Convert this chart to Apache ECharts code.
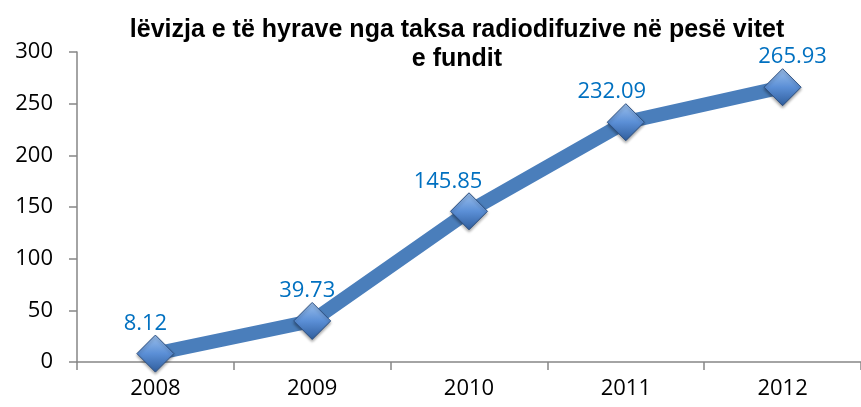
<!DOCTYPE html>
<html>
<head>
<meta charset="utf-8">
<script src="https://cdn.jsdelivr.net/npm/echarts@6/dist/echarts.min.js"></script>
<style>
    html, body { margin: 0; padding: 0; background: #fff; }
    #chart { width: 861px; height: 407px; }
</style>
</head>
<body>
<div id="chart"></div>
<script>
    // vitet dhe te hyrat
    var years = ['2008', '2009', '2010', '2011', '2012'];
    var hyrat = [8.12, 39.73, 145.85, 232.09, 265.93];
    var yTicks = [0, 50, 100, 150, 200, 250, 300];
    // zhvendosja horizontale e etiketave (si ne Excel)
    var labelShift = [-10, -5, -21, -14, 10];

    var chart = echarts.init(document.getElementById('chart'));

    var seriesData = hyrat.map(function (v, i) {
        return { value: v, label: { offset: [labelShift[i], 0] } };
    });

    var option = {
        animation: false,
        title: {
            text: 'lëvizja e të hyrave nga taksa radiodifuzive në pesë vitet\ne fundit',
            left: 452,
            top: 11,
            textAlign: 'center',
            textStyle: {
                fontFamily: 'Liberation Sans',
                fontWeight: 'bold',
                fontSize: 25,
                lineHeight: 29,
                color: '#000'
            }
        },
        grid: {
            left: 77,
            right: -3,
            top: 52,
            bottom: 45
        },
        xAxis: {
            type: 'category',
            data: years,
            boundaryGap: true,
            axisLine: { lineStyle: { color: '#868686', width: 1.5 } },
            axisTick: { show: true, length: 8, lineStyle: { color: '#868686', width: 1.5 } },
            axisLabel: {
                fontFamily: 'Open Sans',
                fontSize: 22,
                color: '#000',
                margin: 16
            }
        },
        yAxis: {
            type: 'value',
            min: yTicks[0],
            max: yTicks[yTicks.length - 1],
            interval: 50,
            axisLine: { show: true, lineStyle: { color: '#868686', width: 1.5 } },
            axisTick: { show: true, length: 8, lineStyle: { color: '#868686', width: 1.5 } },
            splitLine: { show: false },
            axisLabel: {
                fontFamily: 'Open Sans',
                fontSize: 22,
                color: '#000',
                margin: 24
            }
        },
        series: [{
            type: 'line',
            data: seriesData,
            symbol: 'diamond',
            symbolSize: 37,
            lineStyle: { color: '#4a7ebb', width: 14 },
            itemStyle: {
                color: new echarts.graphic.LinearGradient(0, 0, 0, 1, [
                    { offset: 0, color: '#9cc0ec' },
                    { offset: 0.5, color: '#5b8fd6' },
                    { offset: 1, color: '#2f5d9c' }
                ]),
                borderColor: '#2c4f80',
                borderWidth: 1,
                shadowColor: 'rgba(0,0,0,0.35)',
                shadowBlur: 3,
                shadowOffsetY: 2
            },
            label: {
                show: true,
                position: 'top',
                distance: 0,
                fontFamily: 'Open Sans',
                fontSize: 22,
                color: '#0070c0'
            }
        }]
    };

    chart.setOption(option);
</script>
</body>
</html>
